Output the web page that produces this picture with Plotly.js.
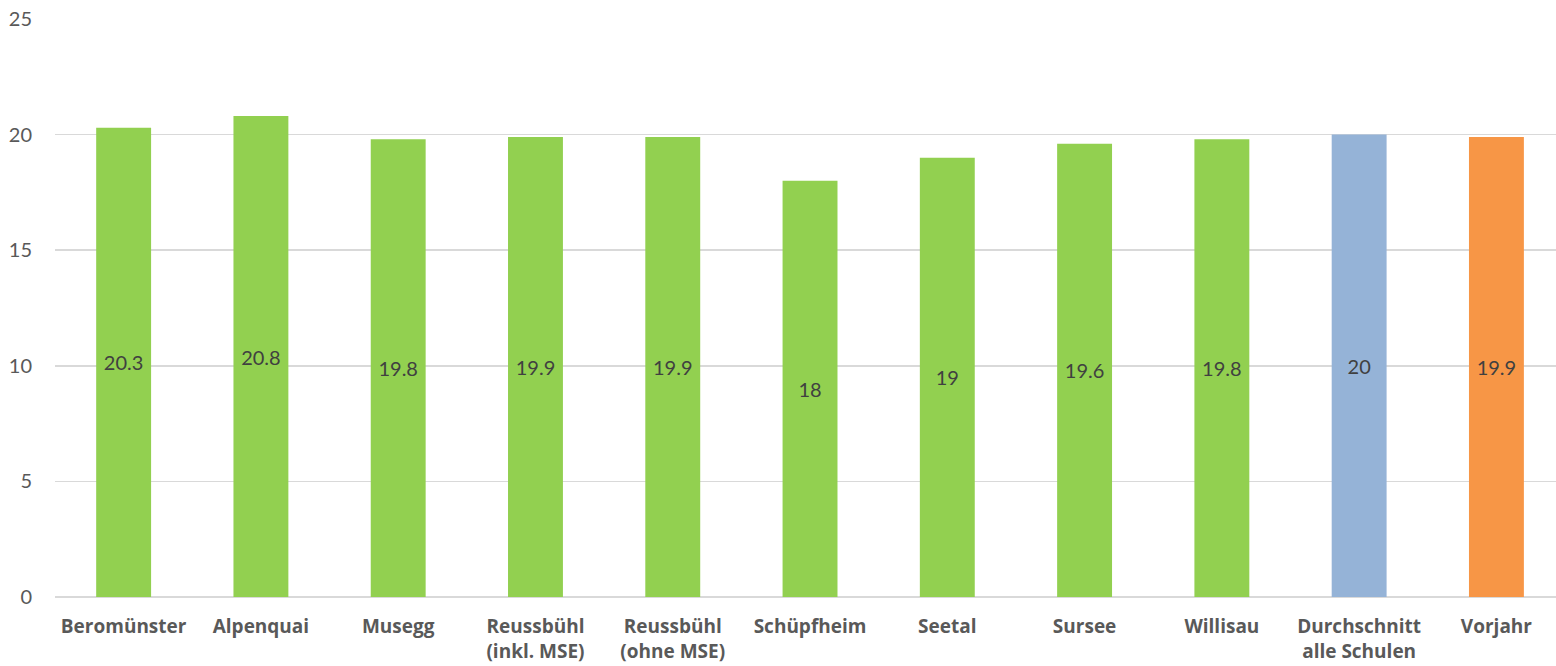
<!DOCTYPE html>
<html>
<head>
<meta charset="utf-8">
<script src="https://cdn.plot.ly/plotly-3.0.1.min.js"></script>
<style>html,body{margin:0;padding:0;background:#fff;}#chart{width:1556px;height:666px;}</style>
</head>
<body>
<div id="chart"></div>
<script>
const categories = ["Beromünster", "Alpenquai", "Musegg", "Reussbühl<br>(inkl. MSE)", "Reussbühl<br>(ohne MSE)", "Schüpfheim", "Seetal", "Sursee", "Willisau", "Durchschnitt<br>alle Schulen", "Vorjahr"];
const values = [20.3, 20.8, 19.8, 19.9, 19.9, 18, 19, 19.6, 19.8, 20, 19.9];
const barColors = ["#92d050", "#92d050", "#92d050", "#92d050", "#92d050", "#92d050", "#92d050", "#92d050", "#92d050", "#95b3d7", "#f79646"];
const yTicks = [0, 5, 10, 15, 20, 25];

const trace = {
  type: "bar",
  x: categories.map((c, i) => i),
  y: values,
  width: 0.4,
  marker: { color: barColors, line: { width: 0 } },
  text: values.map(v => String(v)),
  textposition: "inside",
  insidetextanchor: "middle",
  constraintext: "none",
  textangle: 0,
  textfont: { family: "Lato, 'Open Sans', sans-serif", size: 20, color: "#404040" },
  hoverinfo: "none"
};

const layout = {
  width: 1556,
  height: 666,
  margin: { l: 55, r: 0, t: 19, b: 69 },
  paper_bgcolor: "#ffffff",
  plot_bgcolor: "#ffffff",
  showlegend: false,
  bargap: 0.6,
  xaxis: {
    range: [-0.5, 10.434],
    tickmode: "array",
    tickvals: categories.map((c, i) => i),
    ticktext: categories.map(c => "<b>" + c + "</b>"),
    tickfont: { family: "'Open Sans', Lato, sans-serif", size: 19, color: "#595959" },
    showgrid: false,
    zeroline: false,
    showline: false,
    ticks: "",
    ticklabelstandoff: 16,
    fixedrange: true
  },
  yaxis: {
    range: [0, 25],
    tickmode: "array",
    tickvals: yTicks,
    ticktext: yTicks.map(String),
    tickfont: { family: "Lato, 'Open Sans', sans-serif", size: 20, color: "#595959" },
    showgrid: true,
    gridcolor: "#d9d9d9",
    gridwidth: 1.5,
    zeroline: true,
    zerolinecolor: "#d9d9d9",
    zerolinewidth: 1.5,
    showline: false,
    ticks: "",
    ticklabelstandoff: 22,
    fixedrange: true
  }
};

Plotly.newPlot("chart", [trace], layout, { displayModeBar: false, staticPlot: true });
</script>
</body>
</html>
